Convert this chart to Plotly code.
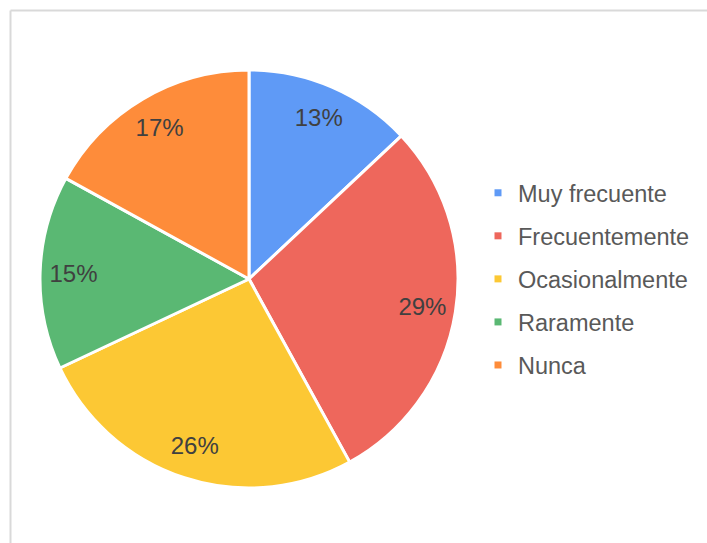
import plotly.graph_objects as go

categories = ["Muy frecuente", "Frecuentemente", "Ocasionalmente", "Raramente", "Nunca"]
values = [13, 29, 26, 15, 17]
colors = ["#5F9AF6", "#EE675C", "#FCC834", "#5AB873", "#FE8C3A"]

W, H = 707, 543
FONT = "Liberation Sans, Arial"
pie_domain = dict(x=[40 / W, 458 / W], y=[1 - 488 / H, 1 - 70 / H])

fig = go.Figure()
fig.add_trace(go.Pie(
    labels=categories, values=values,
    sort=False, direction="clockwise", rotation=0,
    marker=dict(colors=colors, line=dict(color="white", width=3)),
    textinfo="none", domain=pie_domain,
    showlegend=False, hoverinfo="label+percent",
))
# transparent donut on top, only to place the percent labels near the rim
fig.add_trace(go.Pie(
    labels=categories, values=values, hole=0.68,
    sort=False, direction="clockwise", rotation=0,
    marker=dict(colors=["rgba(0,0,0,0)"] * len(values), line=dict(width=0)),
    textinfo="percent", texttemplate="%{percent:.0%}",
    textposition="inside", insidetextorientation="horizontal",
    textfont=dict(family=FONT, size=24, color="#404040"),
    domain=pie_domain, showlegend=False, hoverinfo="skip",
))

# legend built from dummy traces so the row spacing can be set
for name, col in zip(categories, colors):
    fig.add_trace(go.Scatter(
        x=[None], y=[None], mode="markers", name=name, legendgroup=name,
        marker=dict(symbol="square", size=7, color=col),
    ))

fig.update_layout(
    width=W, height=H,
    margin=dict(l=0, r=0, t=0, b=0),
    paper_bgcolor="white", plot_bgcolor="white",
    xaxis=dict(visible=False), yaxis=dict(visible=False),
    legend=dict(
        x=478 / W, y=1 - 279 / H, xanchor="left", yanchor="middle",
        font=dict(family=FONT, size=23.5, color="#595959"),
        tracegroupgap=9.5, itemclick=False, bgcolor="rgba(0,0,0,0)",
    ),
    shapes=[
        dict(type="line", xref="paper", yref="paper", x0=10.5 / W, x1=10.5 / W,
             y0=0, y1=1 - 10.5 / H, line=dict(color="#d9d9d9", width=2)),
        dict(type="line", xref="paper", yref="paper", x0=10.5 / W, x1=1,
             y0=1 - 10.5 / H, y1=1 - 10.5 / H, line=dict(color="#d9d9d9", width=2)),
    ],
)

fig.write_html("out.html", config={"displayModeBar": False},
               post_script="document.body.style.margin='0';")
